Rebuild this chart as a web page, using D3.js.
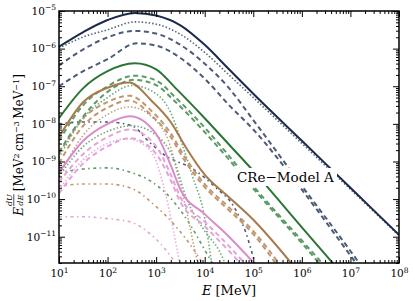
<!DOCTYPE html>
<html>
<head>
<meta charset="utf-8">
<script src="https://cdn.jsdelivr.net/npm/d3@7"></script>
<style>
    body { margin: 0; background: #fff; }
    svg { display: block; font-family: "DejaVu Serif", serif; }
</style>
</head>
<body>
<div id="chart"></div>
<script>
// Curves: [log10 E (MeV), log10 E dU/dE]
const navySolid = [[1, -5.95], [1.5, -5.56], [2, -5.24], [2.56, -5.05], [3, -5.12], [3.5, -5.38], [4, -5.9], [4.5, -6.55], [5, -7.2], [6, -8.45], [7, -9.7], [8, -10.95]];
const navyDotted = [[1, -5.99], [1.5, -5.69], [2, -5.5], [2.56, -5.29], [3, -5.35], [3.5, -5.62], [4, -6.1], [4.5, -6.7], [5, -7.3], [6, -8.52], [7, -9.74], [8, -10.97]];
const navyDashA = [[1, -6.45], [1.5, -6.02], [2, -5.7], [2.56, -5.53], [3, -5.6], [3.5, -5.9], [4, -6.4], [4.5, -7.05], [5, -7.9], [6, -9.65], [7, -11.38], [7.4, -12.1]];
const navyDashB = [[1, -7.0], [1.5, -6.6], [2, -6.28], [2.6, -5.86], [3, -5.92], [3.5, -6.25], [4, -6.8], [4.5, -7.5], [5, -8.15], [6, -9.75], [7, -11.5], [7.4, -12.2]];
const navyDashDot = [[1, -8.0], [1.5, -7.95], [2, -7.95], [2.5, -8.05], [2.87, -8.5], [3.2, -8.85], [3.76, -9.2], [4.25, -9.72], [4.6, -10.2], [4.85, -10.9], [5.05, -11.8]];

const greenSolid = [[1, -7.85], [1.5, -7.05], [2, -6.6], [2.56, -6.39], [3, -6.55], [3.4, -7.05], [4, -7.85], [4.5, -8.55], [5, -9.25], [6, -10.75], [6.65, -11.72]];
const greenDashA = [[1, -8.45], [1.5, -7.5], [2, -7.0], [2.56, -6.72], [3, -6.85], [3.4, -7.3], [4, -8.1], [4.5, -8.85], [5, -9.65], [6, -11.1], [6.45, -11.75]];
const greenDashB = [[1, -8.75], [1.5, -7.8], [2, -7.15], [2.56, -6.83], [3, -6.97], [3.4, -7.42], [4, -8.22], [4.5, -8.95], [5, -9.72], [6, -11.17], [6.42, -11.8]];
const greenDotA = [[1, -8.9], [1.5, -7.85], [2, -7.3], [2.5, -6.98], [3, -7.2], [3.3, -7.7], [3.55, -8.6], [3.75, -9.4], [4, -10.5], [4.15, -11.8]];
const greenDotB = [[1, -9.4], [1.5, -8.6], [2, -8.2], [2.5, -8.05], [3, -8.3], [3.35, -8.9], [3.63, -10.0], [4, -10.85], [4.3, -11.38], [4.45, -11.8]];
const greenDashDot = [[1, -9.3], [1.5, -9.2], [2, -9.17], [2.5, -9.3], [3, -9.62], [3.35, -10.05], [3.7, -10.68], [4, -11.35], [4.2, -11.8]];

const brownSolid = [[1, -8.35], [1.5, -7.42], [2, -7.04], [2.45, -6.9], [2.9, -7.38], [3.3, -7.95], [3.6, -8.6], [4, -9.35], [4.5, -9.95], [5, -10.55], [5.8, -11.73]];
const brownDashA = [[1, -8.8], [1.5, -7.85], [2, -7.42], [2.45, -7.25], [2.9, -7.65], [3.3, -8.25], [3.6, -8.9], [4, -9.6], [4.5, -10.22], [5, -10.85], [5.55, -11.75]];
const brownDashB = [[1, -9.05], [1.5, -8.05], [2, -7.57], [2.45, -7.38], [2.9, -7.77], [3.3, -8.35], [3.6, -9.0], [4, -9.68], [4.5, -10.3], [5, -10.93], [5.5, -11.78]];
const brownDotted = [[1, -9.4], [1.5, -8.3], [2, -7.75], [2.45, -7.55], [3, -7.92], [3.28, -8.54], [3.49, -9.6], [3.63, -10.34], [3.76, -11.14], [3.87, -11.8]];
const brownDashDot = [[1, -9.65], [1.5, -9.6], [2, -9.6], [2.5, -9.72], [3, -10.2], [3.4, -10.72], [3.75, -11.3], [4, -11.8]];

const pinkSolid = [[1, -9.3], [1.5, -8.45], [2, -8.0], [2.46, -7.8], [3, -8.27], [3.3, -9.1], [3.5, -9.75], [4, -10.4], [4.5, -11.0], [5.05, -11.75]];
const pinkDashA = [[1, -9.55], [1.5, -8.8], [2, -8.35], [2.46, -8.15], [3, -8.6], [3.3, -9.35], [3.5, -9.95], [4, -10.6], [4.5, -11.25], [4.85, -11.75]];
const pinkDashB = [[1, -9.85], [1.5, -9.05], [2, -8.6], [2.46, -8.38], [3, -8.8], [3.3, -9.5], [3.5, -10.08], [4, -10.72], [4.5, -11.38], [4.8, -11.8]];
const pinkDotted = [[1, -9.75], [1.5, -8.95], [2, -8.52], [2.4, -8.4], [2.8, -8.6], [3, -9.0], [3.2, -9.9], [3.35, -10.8], [3.5, -11.8]];
const pinkDashDot = [[1, -10.47], [1.5, -10.47], [2, -10.52], [2.5, -10.62], [2.9, -10.95], [3.2, -11.35], [3.45, -11.8]];

const xMajor = [1e1, 1e2, 1e3, 1e4, 1e5, 1e6, 1e7, 1e8];
const yMajor = [1e-11, 1e-10, 1e-9, 1e-8, 1e-7, 1e-6, 1e-5];

// draw order: faint first, solids last
const series = [
    { data: pinkDashDot, color: "#e3a5d8", style: "dashdot" },
    { data: brownDashDot, color: "#bf9770", style: "dashdot" },
    { data: greenDashDot, color: "#5d9a68", style: "dashdot" },
    { data: navyDashDot, color: "#4d5a78", style: "dashdot" },
    { data: pinkDotted, color: "#e6afdd", style: "dotted" },
    { data: brownDotted, color: "#c6a27d", style: "dotted" },
    { data: greenDotB, color: "#6fa97a", style: "dotted" },
    { data: greenDotA, color: "#6fa97a", style: "dotted" },
    { data: navyDotted, color: "#55637f", style: "dotted" },
    { data: pinkDashB, color: "#e3a5d8", style: "dashed" },
    { data: pinkDashA, color: "#e3a5d8", style: "dashed" },
    { data: brownDashB, color: "#bf9770", style: "dashed" },
    { data: brownDashA, color: "#bf9770", style: "dashed" },
    { data: greenDashB, color: "#5d9a68", style: "dashed" },
    { data: greenDashA, color: "#5d9a68", style: "dashed" },
    { data: navyDashB, color: "#4d5a78", style: "dashed" },
    { data: navyDashA, color: "#4d5a78", style: "dashed" },
    { data: pinkSolid, color: "#d98ccc", style: "solid" },
    { data: brownSolid, color: "#a67a4c", style: "solid" },
    { data: greenSolid, color: "#2b7535", style: "solid" },
    { data: navySolid, color: "#1b2a47", style: "solid" }
];

const margin = { top: 11, right: 16, bottom: 38, left: 59 };
const width = 415 - margin.left - margin.right;
const height = 301 - margin.top - margin.bottom;

const svg = d3.select("#chart")
    .append("svg")
    .attr("width", 415)
    .attr("height", 301);

const g = svg.append("g")
    .attr("transform", `translate(${margin.left},${margin.top})`);

const x = d3.scaleLog().domain([1e1, 1e8]).range([0, width]);
const y = d3.scaleLog().domain([2e-12, 1e-5]).range([height, 0]);

g.append("clipPath").attr("id", "clip")
    .append("rect").attr("width", width).attr("height", height);

const line = d3.line()
    .x(d => x(10 ** d[0]))
    .y(d => y(10 ** d[1]))
    .curve(d3.curveMonotoneX);

const dashes = { solid: null, dashed: "5,3.5", dotted: "1.5,2", dashdot: "3,3.5,1.5,3.5" };
const widths = { solid: 2, dashed: 2, dotted: 1.6, dashdot: 1.6 };

g.append("g")
    .attr("clip-path", "url(#clip)")
    .selectAll("path")
    .data(series)
    .enter().append("path")
    .attr("d", d => line(d.data))
    .attr("fill", "none")
    .attr("stroke", d => d.color)
    .attr("stroke-width", d => widths[d.style])
    .attr("stroke-dasharray", d => dashes[d.style]);

// minor tick positions
const xMinor = [];
for (let p = 1; p < 8; p++) for (let k = 2; k < 10; k++) xMinor.push(k * 10 ** p);
const yMinor = [];
for (let p = -12; p < -5; p++) for (let k = 2; k < 10; k++) {
    const v = k * 10 ** p;
    if (v >= 2e-12 && v < 1e-5) yMinor.push(v);
}

function powLabels(sel) {
    sel.selectAll(".tick text").each(function(d) {
        const p = Math.round(Math.log10(d));
        const t = d3.select(this);
        t.text("10");
        t.append("tspan")
            .attr("dy", -4.5)
            .attr("font-size", "7.5px")
            .text(p < 0 ? "\u2212" + (-p) : p);
    });
}

function addAxis(axis, tf, labels) {
    const a = g.append("g").attr("transform", tf).call(axis);
    a.select(".domain").remove();
    a.attr("font-family", null).attr("font-size", "10.5px");
    if (labels) powLabels(a);
    return a;
}

addAxis(d3.axisBottom(x).tickValues(xMajor).tickSize(-6).tickPadding(7), `translate(0,${height})`, true);
addAxis(d3.axisBottom(x).tickValues(xMinor).tickSize(-3).tickFormat(""), `translate(0,${height})`, false);
addAxis(d3.axisTop(x).tickValues(xMajor).tickSize(-6).tickFormat(""), "translate(0,0)", false);
addAxis(d3.axisTop(x).tickValues(xMinor).tickSize(-3).tickFormat(""), "translate(0,0)", false);
addAxis(d3.axisLeft(y).tickValues(yMajor).tickSize(-6).tickPadding(3), "translate(0,0)", true);
addAxis(d3.axisLeft(y).tickValues(yMinor).tickSize(-3).tickFormat(""), "translate(0,0)", false);
addAxis(d3.axisRight(y).tickValues(yMajor).tickSize(-6).tickFormat(""), `translate(${width},0)`, false);
addAxis(d3.axisRight(y).tickValues(yMinor).tickSize(-3).tickFormat(""), `translate(${width},0)`, false);

g.append("rect")
    .attr("width", width)
    .attr("height", height)
    .attr("fill", "none")
    .attr("stroke", "#000")
    .attr("stroke-width", 1.5);

// model label with white box
const noteBox = svg.append("rect").attr("fill", "#fff");
const note = svg.append("text")
    .attr("x", 237)
    .attr("y", 182)
    .attr("font-size", "13.5px")
    .text("CRe\u2212Model A");
const bb = note.node().getBBox();
noteBox
    .attr("x", bb.x - 3)
    .attr("y", bb.y - 1)
    .attr("width", bb.width + 6)
    .attr("height", bb.height + 2);

// x label
const xl = svg.append("text")
    .attr("x", margin.left + width / 2)
    .attr("y", 295)
    .attr("text-anchor", "middle")
    .attr("font-size", "13px");
xl.append("tspan").attr("font-style", "italic").text("E");
xl.append("tspan").text(" [MeV]");

// y label, rotated
const yl = svg.append("g");
const eText = yl.append("text").attr("x", 0).attr("y", 5).attr("font-size", "12px")
    .attr("font-style", "italic").text("E");
const fx = eText.node().getComputedTextLength() + 1;
const dU = yl.append("text").attr("y", -6.3).attr("font-size", "8px").attr("font-style", "italic").text("dU");
const dE = yl.append("text").attr("y", 4.6).attr("font-size", "8px").attr("font-style", "italic").text("dE");
const fw = Math.max(dU.node().getComputedTextLength(), dE.node().getComputedTextLength());
dU.attr("x", fx + fw / 2).attr("text-anchor", "middle");
dE.attr("x", fx + fw / 2).attr("text-anchor", "middle");
yl.append("line").attr("x1", fx).attr("x2", fx + fw).attr("y1", -4.2).attr("y2", -4.2)
    .attr("stroke", "#000").attr("stroke-width", 0.7);
const unit = yl.append("text").attr("x", fx + fw + 3).attr("y", 5).attr("font-size", "12px");
unit.append("tspan").text("[MeV");
unit.append("tspan").attr("dy", -4.5).attr("font-size", "8px").text("2");
unit.append("tspan").attr("dy", 4.5).text("\u2009cm");
unit.append("tspan").attr("dy", -4.5).attr("font-size", "8px").text("\u22123");
unit.append("tspan").attr("dy", 4.5).text("\u2009MeV");
unit.append("tspan").attr("dy", -4.5).attr("font-size", "8px").text("\u22121");
unit.append("tspan").attr("dy", 4.5).text("]");
const total = fx + fw + 3 + unit.node().getComputedTextLength();
yl.attr("transform", `translate(18,${145 + total / 2}) rotate(-90)`);
</script>
</body>
</html>
